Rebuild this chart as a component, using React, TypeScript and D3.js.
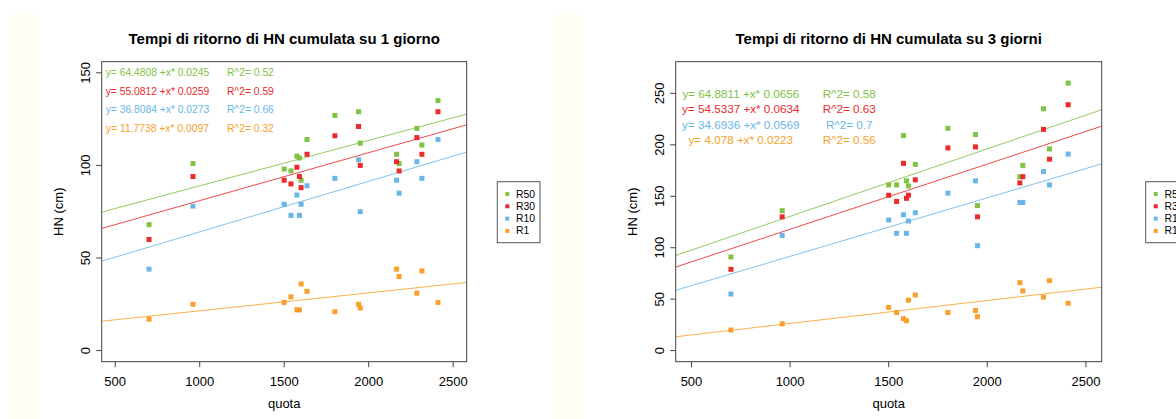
import React from "react";
import * as d3 from "d3";

const quota = [700, 960, 1500, 1540, 1575, 1590, 1600, 1635, 1800, 1940, 1950, 2165, 2180, 2285, 2315, 2410];
const seriesNames = ["R50", "R30", "R10", "R1"];
const colors = ["#80c244", "#ec2a2c", "#69b6e9", "#f8a02b"];

// 1 day
const day1R50 = [68, 101, 98, 97, 105, 104, 92, 114, 127, 129, 112, 106, 101, 120, 111, 135];
const day1R30 = [60, 94, 92, 90, 99, 94, 88, 106, 116, 121, 100, 102, 97, 115, 106, 129];
const day1R10 = [44, 78, 79, 73, 84, 73, 79, 89, 93, 103, 75, 92, 85, 102, 93, 114];
const day1R1 = [17, 25, 26, 29, 22, 22, 36, 32, 21, 25, 23, 44, 40, 31, 43, 26];
const day1Intercepts = [64.4808, 55.0812, 36.8084, 11.7738];
const day1Slopes = [0.0245, 0.0259, 0.0273, 0.0097];
const day1R2 = [0.52, 0.59, 0.66, 0.32];
const day1YTicks = [0, 50, 100, 150];

// 3 days
const day3R50 = [91, 136, 161, 161, 209, 165, 160, 181, 216, 210, 141, 169, 180, 235, 196, 260];
const day3R30 = [79, 130, 151, 145, 182, 148, 151, 166, 197, 198, 130, 163, 169, 215, 186, 239];
const day3R10 = [55, 112, 127, 114, 132, 114, 126, 134, 153, 165, 102, 144, 144, 174, 161, 191];
const day3R1 = [20, 26, 42, 37, 31, 29, 49, 54, 37, 39, 33, 66, 58, 52, 68, 46];
const day3Intercepts = [64.8811, 54.5337, 34.6936, 4.078];
const day3Slopes = [0.0656, 0.0634, 0.0569, 0.0223];
const day3R2 = [0.58, 0.63, 0.7, 0.56];
const day3YTicks = [0, 50, 100, 150, 200, 250];

const xTicks = [500, 1000, 1500, 2000, 2500];
const xLim = [500, 2500];

const FONT = "'Liberation Sans', Arial, Helvetica, sans-serif";

type PanelProps = {
  id: string;
  title: string;
  left: number;
  right: number;
  yLim: [number, number];
  yTicks: number[];
  series: number[][];
  intercepts: number[];
  slopes: number[];
  r2: number[];
  annYs: number[];
  annXs: [number, number];
  annFont: number;
  legendX: number;
};

function Panel(p: PanelProps) {
  const top = 61.7;
  const bottom = 361.7;
  const xr = xLim[1] - xLim[0];
  const yr = p.yLim[1] - p.yLim[0];
  const x = d3.scaleLinear().domain([xLim[0] - 0.04 * xr, xLim[1] + 0.04 * xr]).range([p.left, p.right]);
  const y = d3.scaleLinear().domain([p.yLim[0] - 0.04 * yr, p.yLim[1] + 0.04 * yr]).range([bottom, top]);
  const [xd0, xd1] = x.domain();
  const cx = (p.left + p.right) / 2;
  const cy = (top + bottom) / 2;
  const sq = 5;
  const legendRows = [194, 206.3, 218.6, 230.9];
  return (
    <g>
      <defs>
        <clipPath id={"clip-" + p.id}>
          <rect x={p.left} y={top} width={p.right - p.left} height={bottom - top} />
        </clipPath>
      </defs>
      <text x={cx} y={44} textAnchor="middle" fontWeight="bold" fontSize={15} fontFamily={FONT} fill="#000">
        {p.title}
      </text>
      <g clipPath={`url(#clip-${p.id})`}>
        {p.intercepts.map((a, i) => {
          const line = d3.line<number>().x((v) => x(v)).y((v) => y(a + v * p.slopes[i]));
          return <path key={i} d={line([xd0, xd1]) || ""} stroke={colors[i]} strokeWidth={1} fill="none" opacity={0.85} />;
        })}
        {p.series.map((vals, i) =>
          vals.map((v, j) => (
            <rect key={i + "-" + j} x={x(quota[j]) - sq / 2} y={y(v) - sq / 2} width={sq} height={sq} fill={colors[i]} />
          ))
        )}
        {p.intercepts.map((a, i) => (
          <g key={"ann" + i} fontFamily={FONT} fontSize={p.annFont} fill={colors[i]}>
            <text x={x(p.annXs[0])} y={y(p.annYs[i])} textAnchor="middle" dominantBaseline="central">
              {`y= ${a} +x* ${p.slopes[i]}`}
            </text>
            <text x={x(p.annXs[1])} y={y(p.annYs[i])} textAnchor="middle" dominantBaseline="central">
              {`R^2= ${p.r2[i]}`}
            </text>
          </g>
        ))}
      </g>
      <rect x={p.left} y={top} width={p.right - p.left} height={bottom - top} fill="none" stroke="#444" strokeWidth={1} />
      {/* x axis */}
      {xTicks.map((t) => (
        <g key={"xt" + t}>
          <line x1={x(t)} x2={x(t)} y1={bottom} y2={bottom + 5.5} stroke="#444" />
          <text x={x(t)} y={386} textAnchor="middle" fontSize={13} fontFamily={FONT} fill="#000">
            {t}
          </text>
        </g>
      ))}
      {/* y axis */}
      {p.yTicks.map((t) => (
        <g key={"yt" + t}>
          <line x1={p.left} x2={p.left - 5.5} y1={y(t)} y2={y(t)} stroke="#444" />
          <text
            transform={`translate(${p.left - 11.7},${y(t)}) rotate(-90)`}
            textAnchor="middle"
            fontSize={13}
            fontFamily={FONT}
            fill="#000"
          >
            {t}
          </text>
        </g>
      ))}
      <text x={cx} y={408} textAnchor="middle" fontSize={13} fontFamily={FONT} fill="#000">
        quota
      </text>
      <text transform={`translate(${p.left - 38.5},${cy}) rotate(-90)`} textAnchor="middle" fontSize={13} fontFamily={FONT} fill="#000">
        HN (cm)
      </text>
      {/* legend */}
      <rect x={p.legendX} y={181.7} width={42.7} height={61} fill="#fff" stroke="#555" strokeWidth={1} />
      {seriesNames.map((n, i) => (
        <g key={n}>
          <rect x={p.legendX + 10 - 2} y={legendRows[i] - 2} width={4} height={4} fill={colors[i]} />
          <text x={p.legendX + 18.7} y={legendRows[i]} dominantBaseline="central" fontSize={10.4} fontFamily={FONT} fill="#000">
            {n}
          </text>
        </g>
      ))}
    </g>
  );
}

export default function App() {
  return (
    <svg width={1176} height={419} style={{ position: "absolute", left: 0, top: 0, background: "#fff" }}>
      <rect x={0} y={0} width={1176} height={419} fill="#fff" />
      <rect x={8} y={13} width={32} height={406} fill="#fffdf5" />
      <rect x={553} y={13} width={30} height={406} fill="#fffdf5" />
      <Panel
        id="p1"
        title="Tempi di ritorno di HN cumulata su 1 giorno"
        left={101.7}
        right={466.7}
        yLim={[0, 150]}
        yTicks={day1YTicks}
        series={[day1R50, day1R30, day1R10, day1R1]}
        intercepts={day1Intercepts}
        slopes={day1Slopes}
        r2={day1R2}
        annYs={[150, 140, 130, 120]}
        annXs={[750, 1300]}
        annFont={10.3}
        legendX={497.3}
      />
      <Panel
        id="p2"
        title="Tempi di ritorno di HN cumulata su 3 giorni"
        left={675.7}
        right={1101.7}
        yLim={[0, 270]}
        yTicks={day3YTicks}
        series={[day3R50, day3R30, day3R10, day3R1]}
        intercepts={day3Intercepts}
        slopes={day3Slopes}
        r2={day3R2}
        annYs={[250, 235, 220, 205]}
        annXs={[750, 1300]}
        annFont={11.7}
        legendX={1145.7}
      />
    </svg>
  );
}
